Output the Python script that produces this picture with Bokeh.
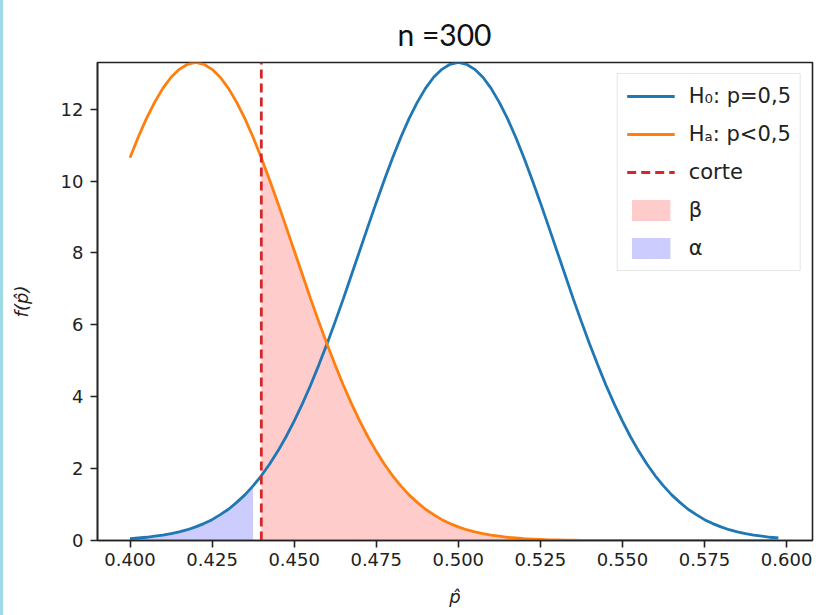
from bokeh.plotting import figure
from bokeh.embed import file_html
from bokeh.resources import INLINE
from bokeh.layouts import row
from bokeh.models import (Range1d, FixedTicker, PrintfTickFormatter, Legend,
                          LegendItem, Div)

# ---- data ----
x_vals = [0.4000, 0.4025, 0.4050, 0.4075, 0.4100, 0.4125, 0.4150, 0.4175,
          0.4200, 0.4225, 0.4250, 0.4275, 0.4300, 0.4325, 0.4350, 0.4375,
          0.4400, 0.4425, 0.4450, 0.4475, 0.4500, 0.4525, 0.4550, 0.4575,
          0.4600, 0.4625, 0.4650, 0.4675, 0.4700, 0.4725, 0.4750, 0.4775,
          0.4800, 0.4825, 0.4850, 0.4875, 0.4900, 0.4925, 0.4950, 0.4975,
          0.5000, 0.5025, 0.5050, 0.5075, 0.5100, 0.5125, 0.5150, 0.5175,
          0.5200, 0.5225, 0.5250, 0.5275, 0.5300, 0.5325, 0.5350, 0.5375,
          0.5400, 0.5425, 0.5450, 0.5475, 0.5500, 0.5525, 0.5550, 0.5575,
          0.5600, 0.5625, 0.5650, 0.5675, 0.5700, 0.5725, 0.5750, 0.5775,
          0.5800, 0.5825, 0.5850, 0.5875, 0.5900, 0.5925, 0.5950, 0.5975]

h0_vals = [0.05, 0.07, 0.09, 0.12, 0.15, 0.19, 0.24, 0.30, 0.38, 0.47,
           0.58, 0.72, 0.87, 1.06, 1.27, 1.52, 1.80, 2.12, 2.48, 2.88,
           3.32, 3.80, 4.32, 4.88, 5.47, 6.09, 6.73, 7.40, 8.07, 8.74,
           9.40, 10.04, 10.65, 11.22, 11.74, 12.19, 12.58, 12.89, 13.11, 13.25,
           13.30, 13.25, 13.11, 12.89, 12.58, 12.19, 11.74, 11.22, 10.65, 10.04,
           9.40, 8.74, 8.07, 7.40, 6.73, 6.09, 5.47, 4.88, 4.32, 3.80,
           3.32, 2.88, 2.48, 2.12, 1.80, 1.52, 1.27, 1.06, 0.87, 0.72,
           0.58, 0.47, 0.38, 0.30, 0.24, 0.19, 0.15, 0.12, 0.09, 0.07]

ha_vals = [10.65, 11.22, 11.74, 12.19, 12.58, 12.89, 13.11, 13.25, 13.30, 13.25,
           13.11, 12.89, 12.58, 12.19, 11.74, 11.22, 10.65, 10.04, 9.40, 8.74,
           8.07, 7.40, 6.73, 6.09, 5.47, 4.88, 4.32, 3.80, 3.32, 2.88,
           2.48, 2.12, 1.80, 1.52, 1.27, 1.06, 0.87, 0.72, 0.58, 0.47,
           0.38, 0.30, 0.24, 0.19, 0.15, 0.12, 0.09, 0.07, 0.05, 0.04,
           0.03, 0.02, 0.02, 0.01, 0.01, 0.0, 0.0, 0.0, 0.0, 0.0,
           0.0, 0.0, 0.0, 0.0, 0.0, 0.0, 0.0, 0.0, 0.0, 0.0,
           0.0, 0.0, 0.0, 0.0, 0.0, 0.0, 0.0, 0.0, 0.0, 0.0]

cutoff = 0.44
alpha_end = 0.4375
y_max = 13.30

x_ticks = [0.400, 0.425, 0.450, 0.475, 0.500, 0.525, 0.550, 0.575, 0.600]
y_ticks = [0, 2, 4, 6, 8, 10, 12]

labels = ["H₀: p=0,5", "Hₐ: p<0,5", "corte", "β", "α"]
title_text = "n =300"

# ---- figure ----
p = figure(width=813, height=615, output_backend="svg", toolbar_location=None,
           x_range=Range1d(0.3901, 0.6079), y_range=Range1d(0, y_max),
           min_border_left=94, min_border_right=4, min_border_top=62,
           min_border_bottom=75)

p.title.text = title_text
p.title.align = "left"
p.title.text_font = "Lato"
p.title.text_font_size = "30px"
p.title.text_font_style = "normal"
p.title.text_color = "#111111"
p.title.standoff = 22
p.title.offset = 300

p.grid.visible = False
p.background_fill_color = "white"
p.border_fill_color = "white"
p.outline_line_color = "#222222"
p.outline_line_width = 1.6
p.outline_line_alpha = 1.0

for ax in (p.xaxis[0], p.yaxis[0]):
    ax.axis_line_color = "#222222"
    ax.axis_line_width = 1.6
    ax.major_tick_line_color = "#222222"
    ax.major_tick_line_width = 1.6
    ax.major_tick_out = 7
    ax.major_tick_in = 0
    ax.minor_tick_line_color = None
    ax.major_label_text_font = "DejaVu Sans"
    ax.major_label_text_font_size = "18px"
    ax.major_label_text_color = "#222222"
    ax.axis_label_text_font = "DejaVu Sans"
    ax.axis_label_text_font_size = "18px"
    ax.axis_label_text_font_style = "italic"
    ax.axis_label_text_color = "#222222"

p.xaxis.ticker = FixedTicker(ticks=x_ticks)
p.xaxis.formatter = PrintfTickFormatter(format="%.3f")
p.yaxis.ticker = FixedTicker(ticks=y_ticks)
p.yaxis.formatter = PrintfTickFormatter(format="%d")
p.xaxis.axis_label = "p̂"
p.yaxis.axis_label = "f(p̂)"
p.xaxis.axis_label_standoff = 17
p.yaxis.axis_label_standoff = 26
p.yaxis.major_label_standoff = 7

# index split points from the data
i_alpha = [i for i, xv in enumerate(x_vals) if xv <= alpha_end]
i_beta = [i for i, xv in enumerate(x_vals) if xv >= cutoff]

r_beta = p.varea(x=[x_vals[i] for i in i_beta], y1=0,
                 y2=[ha_vals[i] for i in i_beta],
                 fill_color="red", fill_alpha=0.2)
r_alpha = p.varea(x=[x_vals[i] for i in i_alpha], y1=0,
                  y2=[h0_vals[i] for i in i_alpha],
                  fill_color="blue", fill_alpha=0.2)

r_h0 = p.line(x_vals, h0_vals, line_color="#1f77b4", line_width=2.8)
r_ha = p.line(x_vals, ha_vals, line_color="#ff7f0e", line_width=2.8)
r_cut = p.line([cutoff, cutoff], [0, y_max], line_color="#d62728",
               line_width=2.8, line_dash="9 5")

legend = Legend(items=[
    LegendItem(label=labels[0], renderers=[r_h0]),
    LegendItem(label=labels[1], renderers=[r_ha]),
    LegendItem(label=labels[2], renderers=[r_cut]),
    LegendItem(label=labels[3], renderers=[r_beta]),
    LegendItem(label=labels[4], renderers=[r_alpha]),
], location="top_right")
legend.margin = 11
legend.padding = 9
legend.spacing = 12
legend.glyph_height = 26
legend.glyph_width = 48
legend.label_standoff = 14
legend.label_text_font = "DejaVu Sans"
legend.label_text_font_size = "21px"
legend.label_text_color = "#222222"
legend.border_line_color = "#cccccc"
legend.border_line_width = 1.5
legend.background_fill_alpha = 0.85
p.add_layout(legend)

strip = Div(text="", width=3, height=615, margin=0,
            styles={"background-color": "#9edbe6"})

layout = row(strip, p, spacing=0)
open("out.html", "w").write(file_html(layout, INLINE))
